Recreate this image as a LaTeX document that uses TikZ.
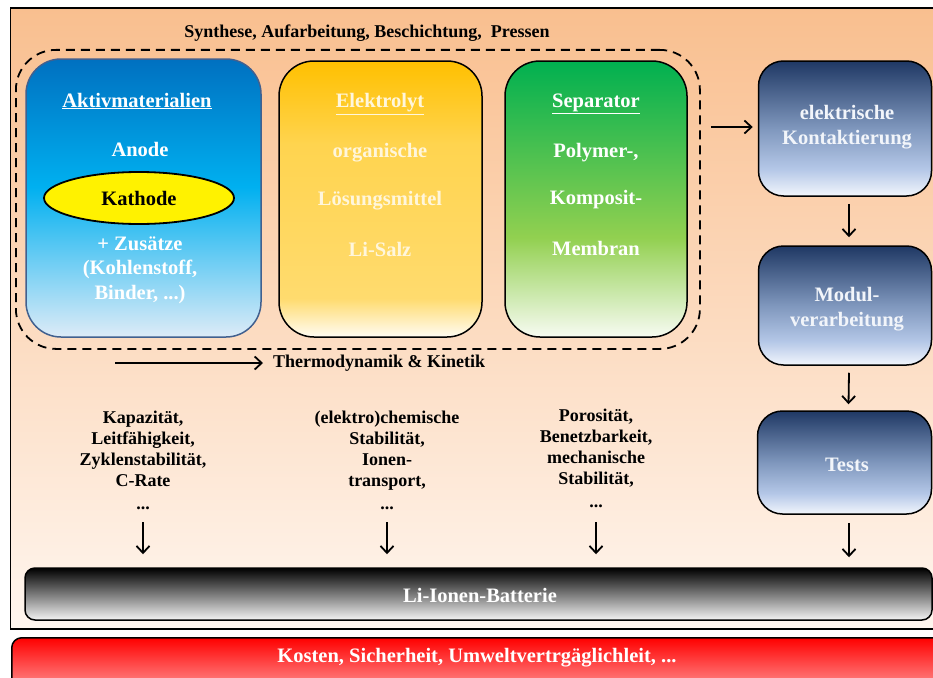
\documentclass[tikz,border=0pt]{standalone}
\usepackage{fontspec}
\setmainfont{Liberation Serif}
\usetikzlibrary{arrows.meta,shapes.geometric}

\definecolor{frTop}{HTML}{F9BF8F}
\definecolor{frBot}{HTML}{FFF6EF}
\definecolor{bTop}{HTML}{0070C0}
\definecolor{bMid}{HTML}{00B0F0}
\definecolor{bBot}{HTML}{DDEBF7}
\definecolor{bBorder}{HTML}{41608F}
\definecolor{yTop}{HTML}{FFC000}
\definecolor{yMid}{HTML}{FFD44F}
\definecolor{yLow}{HTML}{FFDB6E}
\definecolor{yBot}{HTML}{FFFCF3}
\definecolor{yText}{HTML}{FFF6DC}
\definecolor{gTop}{HTML}{00B050}
\definecolor{gMid}{HTML}{92D050}
\definecolor{gBot}{HTML}{F7FBF2}
\definecolor{nTop}{HTML}{1F3864}
\definecolor{nMid}{HTML}{7F97BD}
\definecolor{nLow}{HTML}{B4C7E7}
\definecolor{nBot}{HTML}{F2F6FC}
\definecolor{nText}{HTML}{F2F5FA}
\definecolor{kBot}{HTML}{F4F4F4}
\definecolor{rTop}{HTML}{FF0000}
\definecolor{rBot}{HTML}{FFA8A8}

\pgfdeclareverticalshading{frameS}{100bp}{color(0bp)=(frBot); color(25bp)=(frBot); color(75bp)=(frTop); color(100bp)=(frTop)}
\pgfdeclareverticalshading{blueS}{100bp}{color(0bp)=(bBot); color(25bp)=(bBot); color(52bp)=(bMid); color(75bp)=(bTop); color(100bp)=(bTop)}
\pgfdeclareverticalshading{yellowS}{100bp}{color(0bp)=(yBot); color(25bp)=(yBot); color(32bp)=(yLow); color(60bp)=(yMid); color(75bp)=(yTop); color(100bp)=(yTop)}
\pgfdeclareverticalshading{greenS}{100bp}{color(0bp)=(gBot); color(25bp)=(gBot); color(43bp)=(gMid); color(75bp)=(gTop); color(100bp)=(gTop)}
\pgfdeclareverticalshading{navyS}{100bp}{color(0bp)=(nBot); color(25bp)=(nBot); color(35bp)=(nLow); color(50bp)=(nMid); color(75bp)=(nTop); color(100bp)=(nTop)}
\pgfdeclareverticalshading{blackS}{100bp}{color(0bp)=(kBot); color(25bp)=(kBot); color(75bp)=(black); color(100bp)=(black)}
\pgfdeclareverticalshading{redS}{100bp}{color(0bp)=(rBot); color(25bp)=(rBot); color(75bp)=(rTop); color(100bp)=(rTop)}

\tikzset{
  box/.style={draw, line width=1.5pt, inner sep=0pt},
  big/.style={font=\fontsize{20.5}{24.5}\selectfont\bfseries, align=center, inner sep=2pt},
  small/.style={font=\fontsize{18}{21}\selectfont\bfseries, align=center, inner sep=2pt},
  arr/.style={line width=1.8pt, -{Straight Barb[length=7pt,width=13pt,line width=1.8pt]}}
}

\begin{document}
\begin{tikzpicture}[x=1pt,y=-1pt]
\useasboundingbox (0,0) rectangle (933,677);
\clip (0,0) rectangle (933,677);

% outer frame
\node[box, shading=frameS, minimum width=936pt, minimum height=620.5pt, anchor=north west] (frame) at (9.5,7.5) {};

% red bar
\node[box, shading=redS, rounded corners=10pt, minimum width=940pt, minimum height=60pt, anchor=north west] (red) at (11,637) {};
\node[big, text=white] (redt) at (477,658) {Kosten, Sicherheit, Umweltvertrgäglichleit, ...};

% title
\node[small, text=black] (title) at (367,33) {Synthese, Aufarbeitung, Beschichtung,\ \ Pressen};

% dashed process region
\node[draw, dash pattern=on 9pt off 6pt, line width=1.8pt, rounded corners=40pt, minimum width=684pt, minimum height=299pt, inner sep=0pt, anchor=north west] (proc) at (15,49) {};

% Aktivmaterialien
\node[box, draw=bBorder, shading=blueS, rounded corners=35pt, minimum width=235pt, minimum height=278pt] (akt) at (143.5,198) {};
\node[big, text=white] (aktt) at (137,101) {\underline{Aktivmaterialien}};
\node[big, text=white] (anode) at (140,149) {Anode};
\node[ellipse, draw, line width=1.8pt, fill=yellow, minimum width=190pt, minimum height=52pt, inner sep=0pt, font=\fontsize{20.5}{24.5}\selectfont\bfseries] (kath) at (139,198) {Kathode};
\node[big, text=white] (zus) at (140,270) {+ Zusätze\\(Kohlenstoff,\\Binder, ...)};

% Elektrolyt
\node[box, shading=yellowS, rounded corners=35pt, minimum width=203pt, minimum height=276pt] (elek) at (380.5,199) {};
\node[big, text=yText] (elekt) at (380,104) {\underline{Elektrolyt}};
\node[big, text=yText] (org) at (380,153) {organische};
\node[big, text=yText] (loes) at (380,201) {Lösungsmittel};
\node[big, text=yText] (lisalz) at (380,249) {Li-Salz};

% Separator
\node[box, shading=greenS, rounded corners=35pt, minimum width=182pt, minimum height=276pt] (sep) at (596,199) {};
\node[big, text=white] (sept) at (596,104) {\underline{Separator}};
\node[big, text=white] (poly) at (596,153) {Polymer-,};
\node[big, text=white] (komp) at (596,200) {Komposit-};
\node[big, text=white] (memb) at (596,248) {Membran};

% right column
\node[box, shading=navyS, rounded corners=25pt, minimum width=173pt, minimum height=135pt] (kont) at (845,128.5) {};
\node[big, text=nText] (kontt) at (847,127) {elektrische\\Kontaktierung};
\node[box, shading=navyS, rounded corners=25pt, minimum width=173pt, minimum height=119pt] (modul) at (845,305.5) {};
\node[big, text=nText] (modult) at (847,309) {Modul-\\verarbeitung};
\node[box, shading=navyS, rounded corners=25pt, minimum width=174pt, minimum height=103pt] (tests) at (844.5,462.5) {};
\node[big, text=nText] (testst) at (847,465) {Tests};

% battery bar
\node[box, shading=blackS, rounded corners=10pt, minimum width=907pt, minimum height=52pt] (bat) at (478.5,594) {};
\node[big, text=white] (batt) at (480,595) {Li-Ionen-Batterie};

% thermodynamics
\node[small, anchor=west] (thermo) at (271,363) {Thermodynamik \& Kinetik};
\coordinate (thstart) at (115,363);
\draw[arr] (thstart) -- ([xshift=-8pt]thermo.west);

% property columns
\node[small] (c1) at (143,460) {Kapazität,\\Leitfähigkeit,\\Zyklenstabilität,\\C-Rate\\[2pt]...};
\node[small] (c2) at (387,460) {(elektro)chemische\\Stabilität,\\Ionen-\\transport,\\[2pt]...};
\node[small] (c3) at (596,458) {Porosität,\\Benetzbarkeit,\\mechanische\\Stabilität,\\[2pt]...};

\coordinate (a1) at (143,522);
\coordinate (a2) at (387,522);
\coordinate (a3) at (596,522);
\draw[arr] (a1) -- ([yshift=13pt]a1 |- bat.north);
\draw[arr] (a2) -- ([yshift=13pt]a2 |- bat.north);
\draw[arr] (a3) -- ([yshift=13pt]a3 |- bat.north);

% process arrows
\coordinate (arrowy) at (0,127);
\draw[arr] ([xshift=10pt]proc.east |- arrowy) -- ([xshift=-5pt]kont.west |- arrowy);
\draw[arr] ([xshift=4pt,yshift=-7pt]kont.south) -- ([xshift=4pt,yshift=8pt]modul.north);
\draw[arr] ([xshift=4pt,yshift=-7pt]modul.south) -- ([xshift=4pt,yshift=6pt]tests.north);
\draw[arr] ([xshift=4.5pt,yshift=-8pt]tests.south) -- ([xshift=4.5pt,yshift=10pt]tests.south |- bat.north);
\end{tikzpicture}
\end{document}
